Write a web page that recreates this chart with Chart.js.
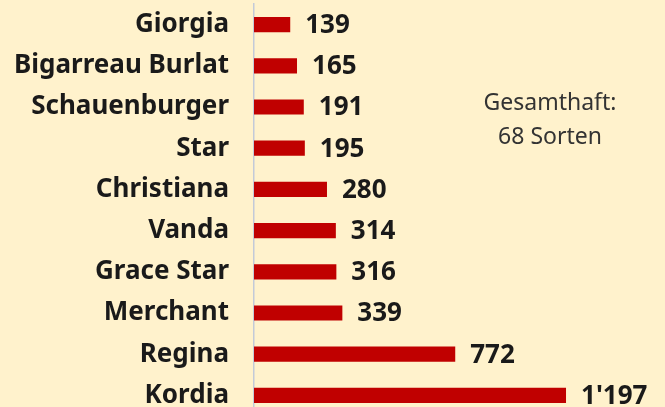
<!DOCTYPE html>
<html lang="de">
<head>
    <meta charset="UTF-8">
    <title>Kirschsorten</title>
    <style>
        html, body { margin: 0; padding: 0; background: #fff2cc; overflow: hidden; }
        #wrap { position: relative; width: 665px; height: 416px; }
    </style>
</head>
<body>
    <div id="wrap">
        <canvas id="myChart"></canvas>
    </div>
    <script src="https://cdn.jsdelivr.net/npm/chart.js"></script>
    <script>
        // Daten
        const sorten = ['Giorgia', 'Bigarreau Burlat', 'Schauenburger', 'Star', 'Christiana',
            'Vanda', 'Grace Star', 'Merchant', 'Regina', 'Kordia'];
        const anzahl = [139, 165, 191, 195, 280, 314, 316, 339, 772, 1197];
        const notiz = ['Gesamthaft:', '68 Sorten'];

        function fmt(v) {
            // Tausender mit Apostroph
            return String(v).replace(/\B(?=(\d{3})+(?!\d))/g, "'");
        }

        const labelFont = 'bold 26px "Noto Sans"';

        // Werte hinter den Balken + Notiz
        const extras = {
            id: 'extras',
            afterDatasetsDraw(chart) {
                const ctx = chart.ctx;
                const meta = chart.getDatasetMeta(0);
                ctx.save();
                ctx.font = labelFont;
                ctx.fillStyle = '#1a1a1a';
                ctx.textAlign = 'left';
                ctx.textBaseline = 'middle';
                meta.data.forEach(function (bar, i) {
                    ctx.fillText(fmt(anzahl[i]), bar.x + 15, bar.y + 1);
                });
                ctx.font = '23px "Noto Sans"';
                ctx.fillStyle = '#333333';
                ctx.textAlign = 'center';
                ctx.fillText(notiz[0], 550, 103);
                ctx.fillText(notiz[1], 550, 137);
                ctx.restore();
            }
        };

        const ctx = document.getElementById('myChart');
        new Chart(ctx, {
            type: 'bar',
            data: {
                labels: sorten,
                datasets: [{
                    data: anzahl,
                    backgroundColor: '#c00000',
                    borderWidth: 0,
                    barPercentage: 0.74,
                    categoryPercentage: 0.5
                }]
            },
            plugins: [extras],
            options: {
                indexAxis: 'y',
                responsive: true,
                maintainAspectRatio: false,
                animation: false,
                layout: { padding: { top: 4, right: 20, bottom: 0, left: 0 } },
                plugins: {
                    legend: { display: false },
                    tooltip: { enabled: false }
                },
                scales: {
                    x: {
                        display: false,
                        min: 0,
                        max: 1500
                    },
                    y: {
                        afterFit: function (scale) {
                            scale.width = 254;
                            scale.paddingTop = 0;
                            scale.paddingBottom = 0;
                        },
                        grid: { display: false, drawTicks: false },
                        border: { display: true, color: '#c3cad8', width: 1.5 },
                        ticks: {
                            padding: 25,
                            color: '#1a1a1a',
                            font: { family: 'Noto Sans', size: 26, weight: 'bold' }
                        }
                    }
                }
            }
        });
    </script>
</body>
</html>
